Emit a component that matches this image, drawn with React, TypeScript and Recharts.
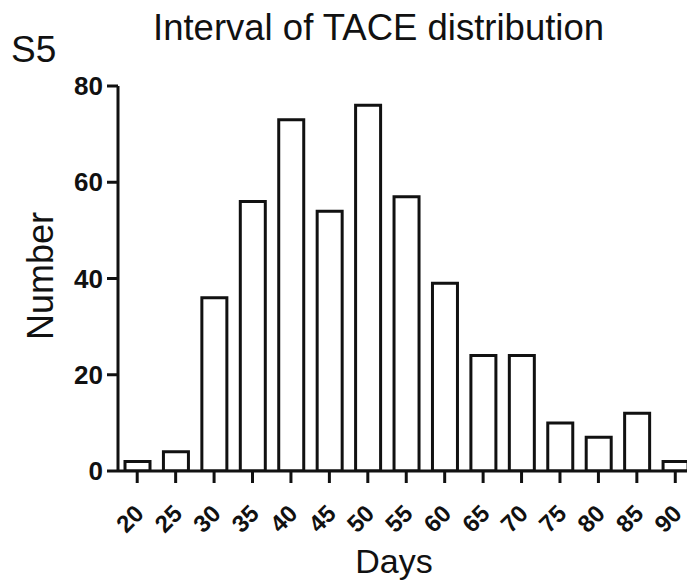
import React from 'react';
import { BarChart, Bar, XAxis, YAxis } from 'recharts';

const days = ['20', '25', '30', '35', '40', '45', '50', '55', '60', '65', '70', '75', '80', '85', '90'];
const counts = [2, 4, 36, 56, 73, 54, 76, 57, 39, 24, 24, 10, 7, 12, 2];
const yTicks = [0, 20, 40, 60, 80];

const INK = '#111';
const FONT = '"Liberation Sans", Arial, Helvetica, sans-serif';

const data = days.map((d, i) => ({ day: d, count: counts[i] }));

// rotated day labels, hanging below each tick
function DayTick(props: any) {
  const { x, y, payload } = props;
  return (
    <g transform={`translate(${x + 8},${y + 32}) rotate(-45)`}>
      <text textAnchor="end" fontFamily={FONT} fontWeight="bold" fontSize={24} fill={INK}>
        {payload.value}
      </text>
    </g>
  );
}

export default function App() {
  return (
    <div
      style={{
        position: 'absolute',
        left: 0,
        top: 0,
        width: 687,
        height: 583,
        overflow: 'hidden',
        background: '#fff',
      }}
    >
      <BarChart
        width={700}
        height={583}
        data={data}
        margin={{ top: 86, right: 5.5, bottom: 0, left: 0 }}
        barSize={25}
      >
        <XAxis
          dataKey="day"
          height={112}
          axisLine={{ stroke: INK, strokeWidth: 3 }}
          tickLine={{ stroke: INK, strokeWidth: 3 }}
          tickSize={12}
          tickMargin={0}
          interval={0}
          tick={<DayTick />}
        />
        <YAxis
          width={118}
          domain={[0, 80]}
          ticks={yTicks}
          allowDataOverflow
          axisLine={{ stroke: INK, strokeWidth: 3 }}
          tickLine={{ stroke: INK, strokeWidth: 3 }}
          tickSize={11}
          tickMargin={4}
          tick={{ fill: INK, fontSize: 26, fontWeight: 'bold', fontFamily: FONT }}
        />
        <Bar dataKey="count" fill="#fff" stroke={INK} strokeWidth={3} isAnimationActive={false} />
      </BarChart>
      <svg
        width={687}
        height={583}
        style={{ position: 'absolute', left: 0, top: 0, pointerEvents: 'none' }}
      >
        <text x={153} y={40} fontFamily={FONT} fontSize={36.5} fill={INK}>
          Interval of TACE distribution
        </text>
        <text x={11} y={62} fontFamily={FONT} fontSize={37} fill={INK}>
          S5
        </text>
        <text
          x={53}
          y={276}
          transform="rotate(-90, 53, 276)"
          textAnchor="middle"
          fontFamily={FONT}
          fontSize={36}
          fill={INK}
        >
          Number
        </text>
        <text x={394} y={573} textAnchor="middle" fontFamily={FONT} fontSize={34} fill={INK}>
          Days
        </text>
      </svg>
    </div>
  );
}
